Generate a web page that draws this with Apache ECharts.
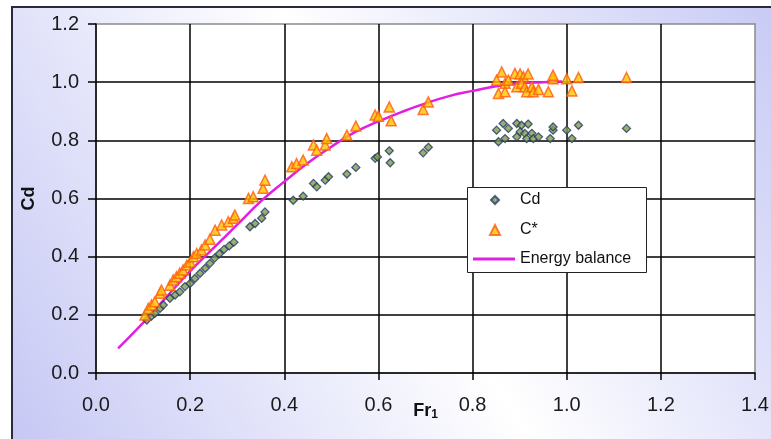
<!DOCTYPE html>
<html>
<head>
<meta charset="utf-8">
<script src="https://cdn.jsdelivr.net/npm/echarts@6/dist/echarts.min.js"></script>
<style>
html,body{margin:0;padding:0;background:#fff;}
#c{width:771px;height:439px;}
</style>
</head>
<body>
<div id="c"></div>
<script>
// Cd (green diamonds)
var cdPoints = [
  [0.108,0.182],[0.118,0.196],[0.125,0.205],[0.136,0.222],[0.143,0.234],[0.157,0.257],
  [0.168,0.268],[0.178,0.279],[0.189,0.297],[0.200,0.308],[0.210,0.325],[0.221,0.343],
  [0.232,0.360],[0.242,0.377],[0.252,0.395],[0.262,0.410],[0.272,0.425],[0.283,0.437],
  [0.293,0.450],[0.327,0.503],[0.338,0.514],[0.352,0.532],[0.359,0.554],
  [0.419,0.594],[0.440,0.608],[0.462,0.652],[0.469,0.640],[0.487,0.663],[0.494,0.675],
  [0.533,0.684],[0.552,0.707],[0.593,0.738],[0.598,0.743],[0.623,0.764],[0.625,0.723],
  [0.695,0.757],[0.706,0.776],
  [0.851,0.835],[0.865,0.858],[0.855,0.795],[0.869,0.806],[0.876,0.841],[0.894,0.858],
  [0.904,0.852],[0.918,0.856],[0.901,0.829],[0.911,0.824],[0.894,0.812],[0.915,0.806],
  [0.926,0.824],[0.929,0.806],[0.940,0.812],[0.965,0.806],[0.971,0.835],[0.971,0.846],
  [1.000,0.835],[1.011,0.806],[1.025,0.852],[1.127,0.841]
];
// C* (orange triangles)
var cStarPoints = [
  [0.104,0.199],[0.111,0.222],[0.118,0.234],[0.125,0.245],[0.136,0.274],[0.139,0.285],
  [0.157,0.302],[0.164,0.320],[0.171,0.331],[0.178,0.343],[0.185,0.354],[0.193,0.371],
  [0.200,0.382],[0.207,0.400],[0.214,0.411],[0.224,0.423],[0.232,0.440],[0.242,0.460],
  [0.253,0.491],[0.267,0.509],[0.281,0.520],[0.292,0.532],[0.295,0.543],[0.324,0.600],
  [0.334,0.606],[0.355,0.635],[0.359,0.663],[0.416,0.709],[0.426,0.720],[0.440,0.732],
  [0.462,0.784],[0.469,0.766],[0.487,0.784],[0.490,0.806],[0.533,0.818],[0.552,0.849],
  [0.593,0.887],[0.600,0.883],[0.623,0.915],[0.627,0.867],[0.695,0.906],[0.706,0.932],
  [0.862,1.035],[0.851,1.007],[0.869,0.996],[0.855,0.961],[0.869,0.967],[0.876,1.007],
  [0.890,1.030],[0.901,1.028],[0.908,1.019],[0.918,1.028],[0.894,0.984],[0.904,0.996],
  [0.911,0.984],[0.915,0.967],[0.926,0.984],[0.929,0.967],[0.940,0.975],[0.961,0.967],
  [0.971,1.012],[0.971,1.024],[1.000,1.012],[1.011,0.970],[1.025,1.016],[1.127,1.016]
];
// Energy balance curve
var energyBalance = [
  [0.047,0.085],[0.10,0.172],[0.15,0.262],[0.20,0.350],[0.25,0.430],[0.30,0.510],
  [0.35,0.590],[0.40,0.658],[0.45,0.722],[0.50,0.778],[0.55,0.828],[0.60,0.865],
  [0.65,0.898],[0.70,0.927],[0.75,0.952],[0.80,0.970],[0.85,0.986],[0.90,0.996],
  [0.95,1.000],[0.99,1.002]
];
var seriesNames = ['Cd', 'C*', 'Energy balance'];

var chart = echarts.init(document.getElementById('c'), null, {renderer: 'canvas'});
var font = 'Liberation Sans, Arial, sans-serif';
var legendText = {fontFamily: font, fontSize: 16, color: '#111', lineHeight: 20};
function mkLegend(name, icon, w, h, left, top, padLeft) {
  return {
    orient: 'vertical', left: left, top: top, padding: 0,
    data: [{name: name, icon: icon}],
    itemWidth: w, itemHeight: h,
    symbolKeepAspect: true,
    selectedMode: false,
    textStyle: Object.assign({padding: [0, 0, 0, padLeft]}, legendText),
    z: 6
  };
}
chart.setOption({
  animation: false,
  backgroundColor: '#ffffff',
  graphic: [{
    type: 'rect', z: -100, silent: true,
    shape: {x: 12, y: 7, width: 800, height: 460},
    style: {
      fill: {
        type: 'linear', x: 0, y: 1, x2: 1, y2: 0,
        colorStops: [
          {offset: 0, color: '#c4c6f4'},
          {offset: 0.5, color: '#ffffff'},
          {offset: 1, color: '#c4c6f4'}
        ]
      },
      stroke: '#2a2a3a', lineWidth: 2
    }
  }, {
    type: 'rect', z: 5, silent: true,
    shape: {x: 467.5, y: 187.5, width: 179, height: 85},
    style: {fill: '#ffffff', stroke: '#222222', lineWidth: 1}
  }],
  grid: {
    left: 96, top: 24, right: 16, bottom: 66,
    outerBoundsMode: 'none',
    show: true, backgroundColor: '#ffffff', borderColor: '#8a8a8a', borderWidth: 1.5,
    containLabel: false
  },
  legend: [
    mkLegend(seriesNames[0], 'diamond', 8, 8, 490, 190, 16),
    mkLegend(seriesNames[1], 'triangle', 10, 10, 489, 220, 15),
    mkLegend(seriesNames[2], 'rect', 42, 3, 473, 249, 0)
  ],
  xAxis: {
    type: 'value', min: 0, max: 1.4, interval: 0.2,
    name: '{a|Fr}{b|1}',
    nameLocation: 'middle', nameGap: 28, nameMoveOverlap: false,
    nameTextStyle: {
      rich: {
        a: {fontFamily: font, fontSize: 18, fontWeight: 'bold', color: '#111', lineHeight: 20},
        b: {fontFamily: font, fontSize: 12, fontWeight: 'bold', color: '#111', lineHeight: 10, verticalAlign: 'bottom'}
      }
    },
    axisLine: {show: true, lineStyle: {color: '#000', width: 1.5}},
    axisTick: {show: true, length: 7, lineStyle: {color: '#000', width: 1.5}},
    axisLabel: {fontFamily: font, fontSize: 20, color: '#1a1a1a', margin: 22,
      formatter: function (v) { return v.toFixed(1); }},
    splitLine: {show: true, showMinLine: false, showMaxLine: false, lineStyle: {color: '#000', width: 1.5}}
  },
  yAxis: {
    type: 'value', min: 0, max: 1.2, interval: 0.2,
    name: 'Cd',
    nameLocation: 'middle', nameGap: 58, nameRotate: 90, nameMoveOverlap: false,
    nameTextStyle: {fontFamily: font, fontSize: 18, fontWeight: 'bold', color: '#111'},
    axisLine: {show: true, lineStyle: {color: '#000', width: 1.5}},
    axisTick: {show: true, length: 8, lineStyle: {color: '#000', width: 1.5}},
    axisLabel: {fontFamily: font, fontSize: 20, color: '#1a1a1a', margin: 17,
      formatter: function (v) { return v.toFixed(1); }},
    splitLine: {show: true, showMinLine: false, showMaxLine: false, lineStyle: {color: '#000', width: 1.5}}
  },
  series: [
    {
      name: seriesNames[0], type: 'scatter', data: cdPoints,
      symbol: 'diamond', symbolSize: 8, symbolKeepAspect: true,
      itemStyle: {color: '#7f9c48', borderColor: '#243a66', borderWidth: 1.3},
      z: 3
    },
    {
      name: seriesNames[1], type: 'scatter', data: cStarPoints,
      symbol: 'triangle', symbolSize: 10, symbolKeepAspect: true,
      itemStyle: {color: '#ffc400', borderColor: '#ff5a10', borderWidth: 1.5},
      z: 4
    },
    {
      name: seriesNames[2], type: 'line', data: energyBalance,
      smooth: true, showSymbol: false, symbol: 'none',
      lineStyle: {color: '#e020e0', width: 2.5},
      itemStyle: {color: '#e020e0'},
      z: 2
    }
  ]
});
</script>
</body>
</html>
